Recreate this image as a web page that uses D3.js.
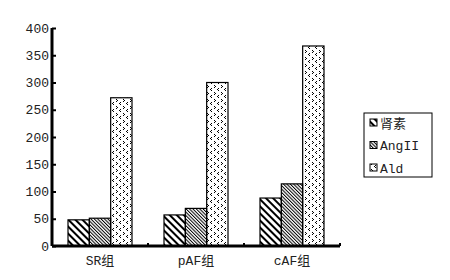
<!DOCTYPE html>
<html>
<head>
<meta charset="utf-8">
<script src="https://cdn.jsdelivr.net/npm/d3@7"></script>
<style>
  body { margin: 0; background: #fff; }
  svg text { font-family: 'Liberation Mono', 'DejaVu Sans Mono', 'Noto Sans CJK SC', monospace; }
</style>
</head>
<body>
<div id="vis"></div>
<script>
// Data
const groups = ["SR组", "pAF组", "cAF组"];
const seriesNames = ["肾素", "AngII", "Ald"];
const renin = [48, 57, 88];
const angII = [51, 69, 114];
const ald = [272, 300, 367];
const yTicks = [0, 50, 100, 150, 200, 250, 300, 350, 400];

const FRAME_WIDTH = 450;
const FRAME_HEIGHT = 280;
const MARGINS = {left: 52, top: 28, right: 110, bottom: 34};
const VIS_WIDTH = 340 - MARGINS.left;
const VIS_HEIGHT = 246 - MARGINS.top;

const FRAME = d3.select("#vis")
  .append("svg")
    .attr("width", FRAME_WIDTH)
    .attr("height", FRAME_HEIGHT);

// Fill patterns
const defs = FRAME.append("defs");
defs.append("pattern")
    .attr("id", "p0")
    .attr("patternUnits", "userSpaceOnUse")
    .attr("width", 5).attr("height", 5)
    .attr("patternTransform", "rotate(-45)")
  .append("rect")
    .attr("x", 0).attr("y", 0).attr("width", 2).attr("height", 5)
    .attr("fill", "#000");
defs.append("pattern")
    .attr("id", "p1")
    .attr("patternUnits", "userSpaceOnUse")
    .attr("width", 2.4).attr("height", 2.4)
    .attr("patternTransform", "rotate(-45)")
  .append("rect")
    .attr("x", 0).attr("y", 0).attr("width", 1).attr("height", 2.4)
    .attr("fill", "#000");
const dots = defs.append("pattern")
    .attr("id", "p2")
    .attr("patternUnits", "userSpaceOnUse")
    .attr("width", 7).attr("height", 7);
[[1, 1], [2, 2], [1, 3], [5, 4], [4, 5], [5, 6]].forEach((p) => {
  dots.append("rect")
    .attr("x", p[0]).attr("y", p[1]).attr("width", 1).attr("height", 1)
    .attr("fill", "#000");
});
const fills = ["url(#p0)", "url(#p1)", "url(#p2)"];

// Scales
const X_SCALE = d3.scaleBand()
  .domain(groups)
  .range([0, VIS_WIDTH]);
const INNER = d3.scaleBand()
  .domain(seriesNames)
  .range([16, X_SCALE.bandwidth() - 16]);
const Y_SCALE = d3.scaleLinear()
  .domain([0, 400])
  .range([VIS_HEIGHT, 0]);

const plot = FRAME.append("g")
  .attr("transform", "translate(" + MARGINS.left + "," + MARGINS.top + ")");

// Bars
const values = [renin, angII, ald];
seriesNames.forEach((s, si) => {
  plot.append("g")
    .selectAll("rect")
    .data(groups)
    .enter()
    .append("rect")
      .attr("x", (d) => X_SCALE(d) + INNER(s))
      .attr("y", (d, i) => Y_SCALE(values[si][i]))
      .attr("width", INNER.bandwidth())
      .attr("height", (d, i) => VIS_HEIGHT - Y_SCALE(values[si][i]))
      .attr("fill", fills[si])
      .attr("stroke", "#000")
      .attr("stroke-width", 1.2);
});

// Y axis
const yAxis = plot.append("g")
  .call(d3.axisLeft(Y_SCALE).tickValues(yTicks).tickSize(-4).tickPadding(3));
yAxis.attr("font-family", null);
yAxis.select(".domain").attr("stroke-width", 3).attr("d", "M0," + VIS_HEIGHT + "V0");
yAxis.selectAll(".tick line").attr("stroke-width", 2);
yAxis.selectAll(".tick text")
  .attr("x", -3)
  .attr("font-size", 13)
  .attr("fill", "#222");

// X axis
const xAxis = plot.append("g")
  .attr("transform", "translate(0," + VIS_HEIGHT + ")")
  .call(d3.axisBottom(X_SCALE).tickSize(0).tickPadding(10));
xAxis.attr("font-family", null);
xAxis.select(".domain").attr("stroke-width", 3).attr("d", "M0,0H" + VIS_WIDTH);
xAxis.selectAll(".tick text")
  .attr("font-size", 13)
  .attr("fill", "#222");
// small ticks between groups
xAxis.selectAll(".sep")
  .data(groups)
  .enter()
  .append("rect")
    .attr("x", (d) => X_SCALE(d) + X_SCALE.step() - 1)
    .attr("y", -3)
    .attr("width", 2)
    .attr("height", 3)
    .attr("fill", "#000");

// Legend
const legend = FRAME.append("g").attr("transform", "translate(364,113)");
legend.append("rect")
  .attr("width", 68).attr("height", 64)
  .attr("fill", "#fff").attr("stroke", "#000").attr("stroke-width", 1);
seriesNames.forEach((s, i) => {
  const row = legend.append("g").attr("transform", "translate(6," + (10 + i * 22.5) + ")");
  row.append("rect")
    .attr("x", 0).attr("y", -4).attr("width", 7).attr("height", 7)
    .attr("fill", fills[i]).attr("stroke", "#000").attr("stroke-width", 1);
  row.append("text")
    .attr("x", 10).attr("y", 4.5)
    .attr("font-size", 13)
    .attr("fill", "#222")
    .text(s);
});
</script>
</body>
</html>
